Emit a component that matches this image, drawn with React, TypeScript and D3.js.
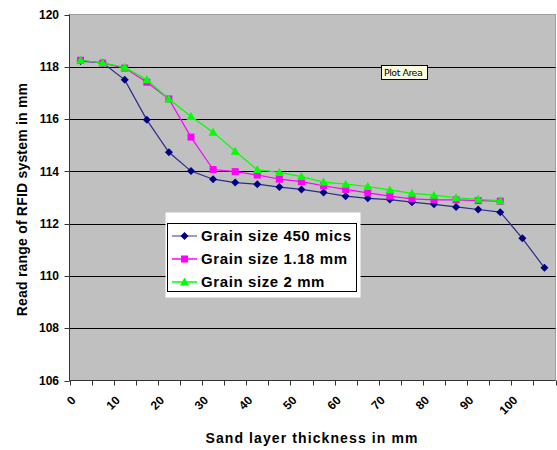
import React from "react";
import * as d3 from "d3";

const categories = [0, 5, 10, 15, 20, 25, 30, 35, 40, 45, 50, 55, 60, 65, 70, 75, 80, 85, 90, 95, 100, 105];
const xTickLabels = [0, 10, 20, 30, 40, 50, 60, 70, 80, 90, 100];
const yTicks = [106, 108, 110, 112, 114, 116, 118, 120];

const grain450 = [118.22, 118.15, 117.5, 115.97, 114.73, 114.01, 113.7, 113.57, 113.51, 113.4, 113.31, 113.19, 113.05, 112.97, 112.92, 112.82, 112.74, 112.64, 112.54, 112.44, 111.44, 110.31];
const grain118 = [118.25, 118.14, 117.95, 117.41, 116.77, 115.31, 114.07, 113.99, 113.86, 113.7, 113.61, 113.45, 113.31, 113.18, 113.05, 112.95, 112.91, 112.91, 112.88, 112.86];
const grain2 = [118.25, 118.15, 117.98, 117.5, 116.77, 116.1, 115.5, 114.77, 114.06, 113.96, 113.8, 113.59, 113.51, 113.42, 113.29, 113.16, 113.09, 112.99, 112.93, 112.88];

const seriesNames = ["Grain size 450 mics", "Grain size 1.18 mm", "Grain size 2 mm"];

const W = 557;
const H = 450;
const left = 69.5;
const right = 555.5;
const top = 14.5;
const bottom = 380.5;

export default function App() {
  const x = d3.scaleBand<number>().domain(categories).range([left, right]).padding(0);
  const y = d3.scaleLinear().domain([106, 120]).range([bottom, top]);
  const cx = (i: number) => (x(categories[i]) as number) + x.bandwidth() / 2;

  const line = d3
    .line<number>()
    .x((_, i) => cx(i))
    .y((d) => y(d));

  const series = [
    { name: seriesNames[0], data: grain450, line: "#2a2a8a", fill: "#000080", marker: "diamond", legendLine: "#7a7ab8" },
    { name: seriesNames[1], data: grain118, line: "#ff00ff", fill: "#ff00ff", marker: "square", legendLine: "#ff00ff" },
    { name: seriesNames[2], data: grain2, line: "#00ff00", fill: "#00ff00", marker: "triangle", legendLine: "#00ff00" },
  ];

  const marker = (type: string, px: number, py: number, color: string, key: any) => {
    if (type === "diamond") {
      const s = 4;
      return <path key={key} d={`M${px},${py - s}L${px + s},${py}L${px},${py + s}L${px - s},${py}Z`} fill={color} />;
    }
    if (type === "square") {
      const s = 3.5;
      return <rect key={key} x={px - s} y={py - s} width={2 * s} height={2 * s} fill={color} />;
    }
    const s = 4.5;
    return <path key={key} d={`M${px},${py - s}L${px + s},${py + s - 1}L${px - s},${py + s - 1}Z`} fill={color} />;
  };

  const boundaries = d3.range(categories.length + 1).map((i) => left + i * x.bandwidth());
  const font = "Arial, 'Liberation Sans', sans-serif";

  return (
    <svg width={W} height={H} style={{ position: "absolute", left: 0, top: 0, background: "#fff" }} fontFamily={font}>
      <rect x={left} y={top} width={right - left} height={bottom - top} fill="#c0c0c0" stroke="#a0a0a0" strokeWidth={1} />
      {yTicks.filter((t) => t > 106 && t < 120).map((t) => (
        <line key={t} x1={left} x2={right} y1={Math.round(y(t)) + 0.5} y2={Math.round(y(t)) + 0.5} stroke="#000" strokeWidth={1} />
      ))}
      {/* y axis */}
      <line x1={left} x2={left} y1={top} y2={bottom} stroke="#333" />
      {yTicks.map((t) => (
        <g key={t}>
          <line x1={left - 5} x2={left} y1={Math.round(y(t)) + 0.5} y2={Math.round(y(t)) + 0.5} stroke="#333" />
          <text x={59} y={y(t)} dy="0.35em" textAnchor="end" fontSize={12} fontWeight="bold" fill="#000">{t}</text>
        </g>
      ))}
      {/* x axis */}
      <line x1={left} x2={right} y1={bottom} y2={bottom} stroke="#333" />
      {boundaries.map((b, i) => (
        <line key={i} x1={Math.round(b) + 0.5} x2={Math.round(b) + 0.5} y1={bottom} y2={bottom + 5} stroke="#333" />
      ))}
      {xTickLabels.map((t) => {
        const i = categories.indexOf(t);
        const px = cx(i) - 7;
        return (
          <text key={t} transform={`translate(${px},${398}) rotate(-45)`} textAnchor="end" dy="0.35em" fontSize={12} fontWeight="bold" fill="#000">{t}</text>
        );
      })}
      {/* series */}
      {series.map((s, si) => (
        <g key={si}>
          <path d={line(s.data) as string} fill="none" stroke={s.line} strokeWidth={1.2} />
          {s.data.map((v, i) => marker(s.marker, cx(i), y(v), s.fill, i))}
        </g>
      ))}
      {/* tooltip */}
      <rect x={381.5} y={65.5} width={46} height={14} fill="#ffffe1" stroke="#000" strokeWidth={1} />
      <text x={384} y={76} fontSize={9.5} fontFamily="'DejaVu Sans', Tahoma, sans-serif" fill="#000" letterSpacing={-0.5}>Plot Area</text>
      {/* legend */}
      <rect x={165.5} y={212.5} width={195} height={85} fill="#fff" />
      <rect x={167.5} y={223.5} width={189} height={68} fill="#fff" stroke="#000" strokeWidth={1} />
      {series.map((s, i) => {
        const ly = 236 + i * 23;
        return (
          <g key={i}>
            <line x1={172} x2={197} y1={ly} y2={ly} stroke={s.legendLine} strokeWidth={1.5} />
            {marker(s.marker, 184.5, ly, s.fill, "m")}
            <text x={201} y={ly} dy="0.36em" fontSize={15} fontWeight="bold" letterSpacing={0.6} fill="#000">{s.name}</text>
          </g>
        );
      })}
      {/* titles */}
      <text x={312} y={443} textAnchor="middle" fontSize={14} fontWeight="bold" letterSpacing={1.1} fill="#000">Sand layer thickness in mm</text>
      <text transform={`translate(27,199.5) rotate(-90)`} textAnchor="middle" fontSize={14} fontWeight="bold" letterSpacing={0.2} fill="#000">Read range of RFID system in mm</text>
    </svg>
  );
}
